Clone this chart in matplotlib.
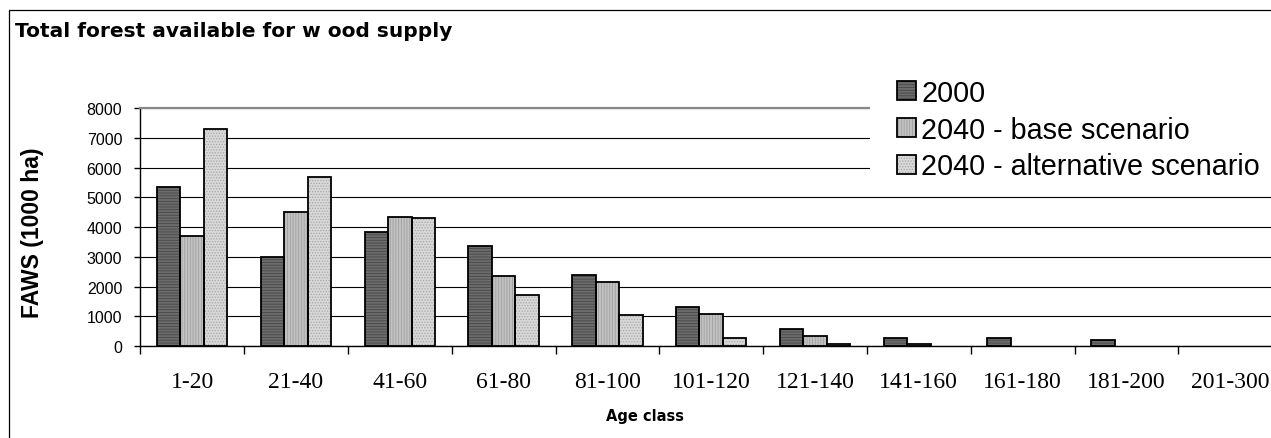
import numpy as np
import matplotlib.pyplot as plt
from matplotlib.patches import Rectangle

# values (1000 ha)
age_classes = ['1-20', '21-40', '41-60', '61-80', '81-100', '101-120',
               '121-140', '141-160', '161-180', '181-200', '201-300']
faws_2000 = [5350, 3000, 3850, 3350, 2400, 1300, 570, 280, 280, 210, 0]
faws_base = [3700, 4500, 4350, 2350, 2150, 1080, 350, 80, 0, 0, 0]
faws_alt = [7300, 5700, 4300, 1700, 1050, 280, 80, 0, 0, 0, 0]
series_names = ['2000', '2040 - base scenario', '2040 - alternative scenario']
y_ticks = [0, 1000, 2000, 3000, 4000, 5000, 6000, 7000, 8000]

W, H = 1271, 439
plt.rcParams['hatch.linewidth'] = 0.6
fig = plt.figure(figsize=(W / 100, H / 100), dpi=100)
ax = fig.add_axes([140.3 / W, 92 / H, 1141.8 / W, 237.7 / H])

x = np.arange(len(age_classes))
bw = 0.226
styles = [('#6c6c6c', '#474747', '------'),
          ('#c2c2c2', '#a0a0a0', '||||||'),
          ('#d8d8d8', '#a8a8a8', '......')]

handles = []
for i, (vals, (fc, hc, hatch)) in enumerate(zip([faws_2000, faws_base, faws_alt], styles)):
    xs = x + (i - 1) * bw
    fill = ax.bar(xs, vals, bw, color=fc, edgecolor=hc, hatch=hatch, linewidth=0, zorder=2)
    edge = ax.bar(xs, vals, bw, fill=False, edgecolor='black', linewidth=1.3, zorder=3)
    # empty classes get no bar at all
    for p, v in zip(edge, vals):
        if v == 0:
            p.set_visible(False)
    handles.append((fill[0], edge[0]))

ax.set_xlim(-0.5, len(age_classes) - 0.5)
ax.set_ylim(0, 8000)
ax.set_yticks(y_ticks)
ax.set_yticklabels([str(v) for v in y_ticks], family='Liberation Sans', fontsize=11.5)
ax.tick_params(axis='y', length=4, width=1, pad=9)

ax.set_xticks(x)
ax.set_xticklabels(age_classes, family='Liberation Serif', fontsize=17)
ax.set_xticks(np.arange(len(age_classes) + 1) - 0.5, minor=True)
ax.tick_params(axis='x', which='major', length=0, pad=18)
ax.tick_params(axis='x', which='minor', length=6, width=1)

ax.set_axisbelow(True)
ax.yaxis.grid(True, color='black', linewidth=0.8)
ax.spines['right'].set_visible(False)
ax.spines['top'].set_color('#888888')
ax.spines['top'].set_linewidth(1.6)
ax.spines['left'].set_linewidth(1)
ax.spines['bottom'].set_linewidth(1)

# white area behind the legend hides the gridlines
ax.add_patch(Rectangle((870 / W, 1 - 182 / H), 0.5, 115 / H, transform=fig.transFigure,
                       facecolor='white', edgecolor='none', clip_on=False, zorder=2.6))

fig.legend(handles=handles, labels=series_names, loc='upper left',
           bbox_to_anchor=(896.7 / W, 1 - 80 / H), frameon=False,
           prop={'family': 'Liberation Sans', 'size': 20.7},
           handlelength=0.66, handleheight=0.63, handletextpad=0.2,
           labelspacing=0.3, borderpad=0, borderaxespad=0)

fig.text(15 / W, 1 - 37.3 / H, 'Total forest available for w ood supply',
         fontsize=14.5, fontweight='bold', family='DejaVu Sans', va='baseline')
fig.text(32.5 / W, 1 - 233 / H, 'FAWS (1000 ha)', rotation=90, ha='center', va='center',
         fontsize=16.5, fontweight='bold', family='Liberation Sans')
fig.text(645 / W, 1 - 417 / H, 'Age class', ha='center', va='center',
         fontsize=10.5, fontweight='bold', family='DejaVu Sans')

# chart frame, cut off at the right and bottom like the original
fig.add_artist(Rectangle((9 / W, -0.1), 1.2, (H - 11) / H + 0.1, transform=fig.transFigure,
                         fill=False, edgecolor='black', linewidth=0.9))

fig.savefig('out.png', dpi=100)
